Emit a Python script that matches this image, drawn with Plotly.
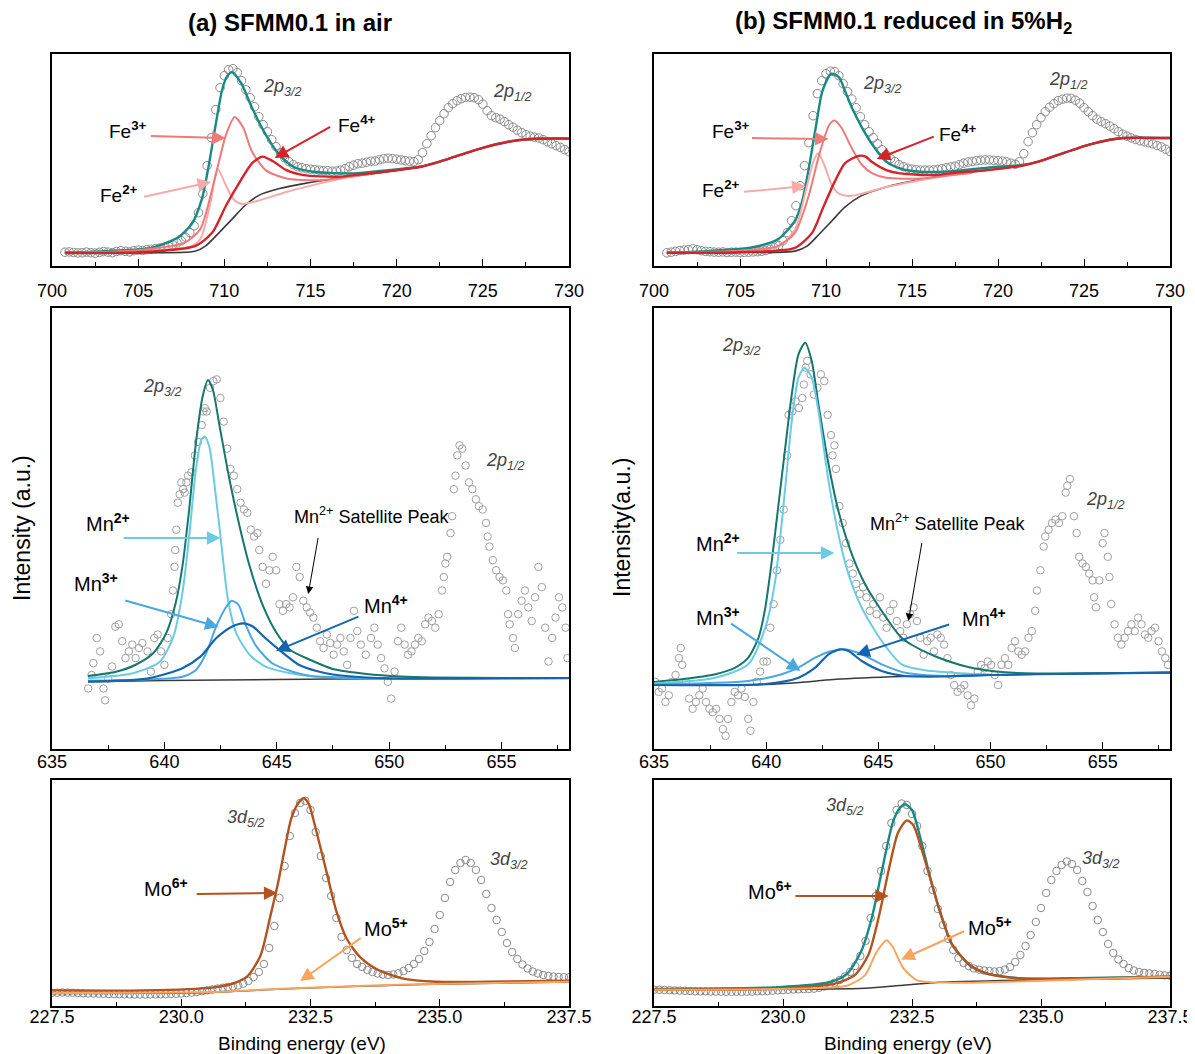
import numpy as np
import plotly.graph_objects as go

# ---------------- DATA ----------------
# Fe 2p  (binding energy grid, eV, 0.25 eV step)
fe_E = np.round(np.arange(700.75, 730.001, 0.25), 2)
fe_air_data = [13.5, 13.8, 13.2, 12.8, 13.0, 13.6, 13.0, 12.6, 13.4, 14.2, 13.6, 13.0, 14.2, 15.0, 14.3, 13.8,
               15.0, 15.6, 15.2, 16.0, 16.4, 17.0, 17.6, 18.4, 19.5, 21, 22.8, 25, 28.5, 33, 40, 53, 72, 100,
               128, 156, 178, 190, 196, 197, 193, 185, 176, 168, 159, 149, 141, 134, 126, 119, 113, 108, 104,
               101, 99, 98, 97, 96.5, 96, 95.6, 95, 95, 94.5, 94.6, 95.5, 97, 99, 100.5, 102, 102.5, 103.5,
               104.5, 104.7, 106, 107, 107.5, 107, 106.5, 105.8, 105, 104.5, 104.1, 106, 113, 122, 130, 138,
               145, 152, 158, 162, 165, 167, 168.3, 168.5, 168, 166, 161.5, 155, 150, 148, 146.5, 144, 141,
               138.5, 135.5, 133, 131, 129.5, 128.5, 127.7, 126, 124, 122, 120, 118.3, 116, 114]
fe_red_data = [12.9, 13.5, 14.3, 15.2, 15.6, 16.0, 16.9, 16.0, 15.0, 14.3, 14.0, 13.6, 13.5, 13.8, 13.2, 13.5,
               13.6, 13.2, 13.4, 13.5, 13.8, 14.0, 14.4, 15.2, 16.4, 18, 20, 25, 33, 45, 60, 80, 100, 123,
               150, 172, 185, 192, 194.5, 194, 190, 182, 174, 166.6, 158, 149, 141, 134, 128, 122, 116, 110.8,
               107, 104, 101, 99, 97.5, 96.5, 96, 95.6, 95.6, 95.6, 95.8, 96.2, 97, 98, 98.8, 99.5, 101,
               102.5, 103.6, 104.3, 105, 105.5, 105.8, 105.8, 105.3, 105, 104.5, 103.8, 102.5, 101.4, 104,
               112, 124, 133, 141, 148, 154, 158.5, 162, 165, 166.5, 167.5, 167.4, 165.5, 162.5, 158, 154,
               150, 146.5, 144, 142, 139.6, 137, 134, 131.5, 129.5, 127.8, 126.3, 125, 124, 123, 121.8, 120.2,
               118.8, 116.5, 114.2]

# Fe fitted components (E, intensity)
fe_air_bg_E = [700.75, 705.0, 708.3, 708.9, 709.7, 710.45, 711.2, 712.0, 713.2, 714.6, 716.5, 719.5, 721.4, 722.5, 723.5, 725.1, 726.4, 727.8, 730.0]
fe_air_bg = [12.2, 12.8, 14.5, 19.6, 33.1, 46.6, 60.2, 70.3, 77.1, 82.1, 87.2, 93.9, 99.0, 104.1, 109.8, 118.3, 123.7, 126.7, 127.1]
fe_air_env_E = [700.75, 703.0, 705.74, 707.3, 708.1, 708.7, 709.1, 709.5, 709.86, 710.15, 710.45, 711.0, 711.6, 712.4, 713.2, 714.0, 715.2, 717.5, 719.5, 721.4, 722.5, 723.5, 725.1, 726.4, 727.8, 730.0]
fe_air_env = [12.9, 14.5, 17.9, 28.1, 41.6, 66.9, 100.7, 141.2, 175, 189, 193.6, 181.8, 158.1, 131.1, 110.8, 99, 93.9, 92.3, 95.6, 99.0, 104.1, 109.8, 118.3, 123.7, 126.7, 127.1]
fe_air_fe4_E = [700.75, 705.0, 708.3, 709.3, 710.1, 710.9, 711.6, 712.2, 712.8, 713.6, 714.6, 716.5, 718.0, 719.5, 721.4, 722.5, 723.5, 725.1, 726.4, 727.8, 730.0]
fe_air_fe4 = [12.9, 13.5, 19.6, 33.1, 60.2, 83.8, 102.4, 109.1, 104.7, 95.6, 90.6, 88.9, 91.5, 94.5, 99.0, 104.1, 109.8, 118.3, 123.7, 126.7, 127.1]
fe_air_fe3_E = [700.75, 705.0, 707.7, 708.6, 709.4, 710.1, 710.6, 711.1, 711.6, 712.4, 713.6, 715.5, 717.0, 718.5]
fe_air_fe3 = [12.9, 15.5, 23, 36.5, 83.8, 131.1, 148.7, 137.9, 114.2, 95.6, 87.2, 85.5, 88.5, 92]
fe_air_fe2_E = [700.75, 705.0, 708.0, 708.6, 709.2, 709.6, 710.0, 710.5, 711.0, 712.0, 713.6, 715.5, 717.0, 718.5]
fe_air_fe2 = [12.9, 14.5, 19, 26.4, 63.5, 97.3, 83.8, 66.9, 61.8, 65.2, 73.7, 82.1, 88, 92]

fe_red_bg_E = [700.75, 705.0, 708.2, 708.9, 709.6, 710.35, 711.1, 712.1, 713.5, 714.3, 716.4, 719.4, 721.4, 722.35, 723.5, 725.3, 726.5, 727.3, 730.0]
fe_red_bg = [12.9, 13.2, 14.6, 19.6, 31.4, 45.0, 58.5, 70.3, 78.7, 82.1, 88.9, 95.6, 100.0, 104.1, 110.8, 121.0, 126.0, 127.7, 127.7]
fe_red_env_E = [700.75, 703.0, 705.6, 707.2, 708.2, 708.6, 709.0, 709.4, 709.8, 710.3, 710.75, 711.1, 711.5, 712.1, 712.7, 713.5, 714.3, 715.5, 717.4, 719.4, 721.4, 722.35, 723.5, 725.3, 726.5, 727.3, 730.0]
fe_red_env = [12.9, 14.5, 17.9, 26.4, 45.0, 63.5, 97.3, 137.9, 175, 191.9, 188.5, 175, 158.1, 137.9, 121, 104.1, 97.3, 93.9, 94.6, 98, 100.7, 104.1, 110.8, 121.0, 126.0, 127.7, 127.7]
fe_red_fe4_E = [700.75, 705.0, 708.2, 709.2, 709.8, 710.5, 711.1, 711.9, 712.3, 712.7, 713.5, 714.3, 716.4, 717.5, 719.4, 721.4, 722.35, 723.5, 725.3, 726.5, 727.3, 730.0]
fe_red_fe4 = [12.9, 13.5, 17.9, 33.1, 56.8, 83.8, 102.4, 109.8, 109.1, 103.4, 95.6, 92.3, 90.6, 93, 95.6, 100, 104.1, 110.8, 121, 126, 127.7, 127.7]
fe_red_fe3_E = [700.75, 705.0, 707.2, 708.2, 709.0, 709.6, 710.2, 710.5, 710.9, 711.5, 712.1, 712.7, 713.5, 715.5, 717.0, 718.5]
fe_red_fe3 = [12.9, 15, 19.6, 33.1, 70.3, 110.8, 141.2, 145.3, 137.9, 117.6, 100.7, 92.3, 87.9, 87.2, 90, 93]
fe_red_fe2_E = [700.75, 705.0, 707.2, 708.2, 708.9, 709.3, 709.55, 709.9, 710.35, 710.75, 711.3, 712.1, 713.5, 715.5, 717.0, 718.5]
fe_red_fe2 = [12.9, 14.5, 18.9, 36.5, 80.4, 105.8, 112.5, 100.7, 80.4, 72, 69.6, 72, 78.7, 85.5, 90, 93]

# Mn 2p raw data (E, intensity) pairs
mn_air_pts = [(636.61, 60.5), (636.76, 74), (636.84, 85.8), (636.99, 111), (637.14, 97.6), (637.29, 60.5),
    (637.36, 48.7), (637.5, 70.6), (637.67, 82.5), (637.82, 122.3), (637.97, 124.7), (638.12, 107.8),
    (638.27, 90.9), (638.42, 97.6), (638.57, 104.4), (638.72, 90.9), (638.87, 101), (639.02, 106),
    (639.25, 97.6), (639.4, 77.4), (639.55, 111), (639.7, 114.5), (639.85, 97.6), (640.0, 84.1),
    (640.15, 111), (640.3, 134.8), (640.38, 158.5), (640.45, 182.1), (640.48, 199), (640.53, 219.3),
    (640.6, 246.3), (640.68, 254.7), (640.75, 266.6), (640.83, 259.8), (640.9, 256.4), (640.98, 266.6),
    (641.05, 273.3), (641.2, 276.7), (641.36, 293.6), (641.5, 307.1), (641.66, 324), (641.73, 337.5),
    (641.8, 340.9), (641.88, 337.5), (642.03, 361.2), (642.18, 367.9), (642.33, 369.6), (642.49, 351),
    (642.64, 327.4), (642.79, 300.4), (642.94, 280.1), (643.09, 273.3), (643.24, 259.8), (643.39, 246.3),
    (643.54, 239.5), (643.69, 236.2), (643.84, 219.3), (643.99, 212.5), (644.14, 215.9), (644.22, 199),
    (644.37, 182.1), (644.52, 165.2), (644.67, 178.7), (644.82, 192.2), (644.97, 178.7), (645.12, 144.9),
    (645.27, 138.2), (645.42, 144.9), (645.57, 141.6), (645.72, 151.7), (645.87, 182.1), (646.02, 172),
    (646.18, 148.3), (646.33, 141.6), (646.48, 136.5), (646.63, 131.4), (646.78, 121.3), (646.93, 107.8),
    (647.08, 101), (647.23, 114.5), (647.38, 106), (647.53, 94.3), (647.68, 104.4), (647.83, 111),
    (647.98, 97.6), (648.13, 84.1), (648.28, 111), (648.43, 138.2), (648.58, 117.9), (648.74, 104.4),
    (648.96, 94.3), (649.19, 111), (649.34, 121.3), (649.49, 104.4), (649.64, 90.9), (649.79, 80.7),
    (649.94, 67.2), (650.09, 50.4), (650.24, 77.4), (650.39, 107.8), (650.54, 121.3), (650.69, 104.4),
    (650.84, 94.3), (650.99, 97.6), (651.15, 104.4), (651.3, 111), (651.45, 107.8), (651.6, 124.7),
    (651.75, 131.4), (651.9, 128), (652.05, 121.3), (652.2, 134.8), (652.35, 158.5), (652.43, 172),
    (652.5, 185.5), (652.58, 192.2), (652.73, 215.9), (652.8, 232.8), (652.88, 259.8), (652.95, 273.3),
    (653.03, 293.6), (653.13, 303.7), (653.25, 300.4), (653.4, 283.5), (653.55, 266.6), (653.7, 259.8),
    (653.86, 249.7), (653.99, 242.9), (654.16, 239.5), (654.31, 226), (654.38, 212.5), (654.46, 202.4),
    (654.61, 188.9), (654.76, 178.7), (654.91, 172), (655.06, 168.6), (655.21, 158.5), (655.29, 134.8),
    (655.36, 124.7), (655.51, 111), (655.59, 101), (655.74, 134.8), (655.89, 148.3), (656.04, 158.5),
    (656.19, 141.6), (656.34, 128), (656.49, 151.7), (656.64, 182.1), (656.79, 161.9), (656.94, 121.3),
    (657.09, 87.5), (657.25, 111), (657.4, 131.4), (657.55, 151.7), (657.7, 141.6), (657.85, 121.3),
    (657.93, 90.9)]
mn_red_pts = [(635.06, 67.2), (635.21, 57.1), (635.36, 60.5), (635.51, 47), (635.66, 53.7), (635.81, 67.2),
    (635.96, 74), (636.11, 90.9), (636.19, 101), (636.26, 84.1), (636.42, 67.2), (636.57, 50.4),
    (636.72, 40.2), (636.87, 47), (637.02, 53.7), (637.17, 60.5), (637.32, 47), (637.47, 40.2),
    (637.62, 36.8), (637.77, 40.2), (637.92, 30.1), (638.07, 19.9), (638.19, 13.2), (638.3, 30.1),
    (638.45, 47), (638.6, 57.1), (638.75, 53.7), (638.9, 60.5), (639.05, 52), (639.2, 30.1),
    (639.3, 18.3), (639.43, 47), (639.58, 67.2), (639.73, 77.4), (639.88, 87.5), (640.03, 87.5),
    (640.18, 121.3), (640.33, 144.9), (640.48, 178.7), (640.63, 209.1), (640.78, 239.5), (640.93, 293.6),
    (641.0, 334.1), (641.16, 337.5), (641.31, 347.6), (641.46, 341), (641.61, 351), (641.68, 364.5),
    (641.76, 381.4), (641.83, 388.2), (641.98, 374.7), (642.13, 354.4), (642.28, 361.2), (642.44, 374.7),
    (642.59, 367.9), (642.74, 334.1), (642.89, 313.9), (642.96, 293.6), (643.04, 303.7), (643.11, 280.1),
    (643.26, 242.9), (643.41, 226), (643.56, 205.8), (643.71, 185.5), (643.86, 175.4), (644.01, 165.2),
    (644.17, 155.1), (644.32, 161.9), (644.47, 151.7), (644.62, 138.2), (644.77, 144.9), (644.92, 134.8),
    (645.07, 151.7), (645.22, 131.4), (645.37, 121.3), (645.52, 138.2), (645.67, 144.9), (645.82, 128),
    (645.97, 117.9), (646.12, 111.2), (646.27, 124.7), (646.42, 134.8), (646.57, 141.6), (646.72, 128),
    (646.87, 111.2), (647.02, 94.3), (647.18, 107.8), (647.33, 111.2), (647.48, 97.6), (647.63, 114.5),
    (647.78, 111.2), (647.93, 104.4), (648.08, 90.9), (648.23, 74), (648.38, 63.9), (648.53, 57.1),
    (648.68, 60.5), (648.83, 63.9), (648.98, 53.7), (649.13, 43.6), (649.28, 50.4), (649.43, 77.4),
    (649.58, 84.1), (649.73, 80.7), (649.88, 87.5), (650.03, 84.1), (650.19, 74), (650.34, 63.9),
    (650.49, 84.1), (650.64, 90.9), (650.79, 84.1), (650.94, 101), (651.09, 107.8), (651.24, 97.6),
    (651.39, 94.3), (651.54, 97.6), (651.69, 111.2), (651.84, 117.9), (651.99, 138.2), (652.07, 158.5),
    (652.22, 178.7), (652.37, 202.4), (652.44, 212.5), (652.59, 219.3), (652.74, 226), (652.89, 229.4),
    (653.05, 226), (653.2, 232.8), (653.35, 256.4), (653.42, 263.2), (653.54, 270), (653.72, 232.8),
    (653.84, 215.9), (653.95, 192.2), (654.1, 185.5), (654.25, 182.1), (654.4, 175.4), (654.55, 168.6),
    (654.62, 151.7), (654.7, 141.6), (654.85, 168.6), (655.0, 205.8), (655.08, 215.9), (655.23, 192.2),
    (655.3, 172), (655.38, 145), (655.53, 124.7), (655.68, 111.2), (655.83, 104.4), (655.98, 111.2),
    (656.13, 117.9), (656.28, 124.7), (656.43, 117.9), (656.58, 131.4), (656.73, 124.7), (656.88, 114.5),
    (657.03, 111.2), (657.18, 117.9), (657.33, 121.3), (657.49, 107.8), (657.64, 97.6), (657.79, 90.9),
    (657.91, 84.1)]

# Mn fitted components
mn_air_bg_E = [636.6, 640, 645, 650, 658]
mn_air_bg = [67.3, 68.5, 69.5, 70.3, 70.8]
mn_air_env_E = [636.6, 637.85, 638.7, 639.5, 640.08, 640.5, 640.8, 641.1, 641.4, 641.7, 641.94, 642.16, 642.46, 642.9, 643.35, 643.8, 644.4, 645.0, 645.6, 646.5, 647.5, 649.0, 650.5, 652.0, 655, 658]
mn_air_env = [73, 77.3, 84, 95.7, 115.7, 145.7, 182.3, 239, 305.7, 352.3, 369, 359, 322.3, 269, 222.3, 182.3, 142.3, 115.7, 99, 89, 80, 75, 72.5, 71.5, 71, 71]
mn_air_mn2_E = [636.6, 638.6, 639.8, 640.4, 640.8, 641.1, 641.4, 641.64, 641.8, 642.0, 642.24, 642.53, 642.83, 643.2, 643.8, 644.5, 645.6, 646.5, 648, 650]
mn_air_mn2 = [70.7, 75.7, 87.3, 112.3, 155.7, 212.3, 279, 309, 312.3, 302.3, 262.3, 205.7, 149, 115.7, 94, 82.3, 75.7, 73, 71.5, 70.5]
mn_air_mn3_E = [636.6, 640.8, 641.4, 641.86, 642.3, 642.75, 643.0, 643.3, 643.65, 644.1, 644.8, 645.7, 646.5, 648, 650]
mn_air_mn3 = [68.3, 72.3, 79, 95.7, 122.3, 142.3, 148.3, 144, 122.3, 102.3, 85.7, 77.3, 73, 71.2, 70.5]
mn_air_mn4_E = [636.6, 639.3, 640.8, 641.6, 642.3, 643.0, 643.5, 643.95, 644.5, 645.3, 646.0, 646.77, 647.5, 649.0, 650, 658]
mn_air_mn4 = [67.3, 70.7, 80.7, 92.3, 110.7, 122.3, 125.7, 122.3, 110.7, 95.7, 84, 78, 74.5, 71.5, 70.6, 70.8]

mn_red_bg_E = [635, 640, 641.5, 643, 646, 650, 654, 658]
mn_red_bg = [64, 64.5, 66.5, 69.5, 72.5, 74, 75.3, 76.4]
mn_red_env_E = [635.0, 636.25, 637.73, 638.62, 639.2, 639.66, 639.96, 640.25, 640.55, 640.85, 641.14, 641.44, 641.74, 642.03, 642.33, 642.78, 643.22, 643.82, 644.41, 645.15, 646.0, 646.5, 647.5, 649.0, 650.5, 652, 655, 658]
mn_red_env = [67, 69.7, 74.7, 81.3, 91.3, 111.3, 141.3, 188, 244.7, 301.3, 354.7, 394.7, 406.3, 388, 344.7, 284.7, 238, 194.7, 164.7, 138, 112, 104, 93, 82, 77, 75.5, 75.8, 76.4]
mn_red_mn2_E = [635, 637.73, 639.2, 639.96, 640.4, 640.85, 641.14, 641.44, 641.71, 642.03, 642.33, 642.78, 643.22, 643.67, 644.26, 645.15, 646.04, 647, 648.5, 650]
mn_red_mn2 = [65.5, 71.3, 84.7, 121.3, 168, 261.3, 328, 371.3, 381.3, 371.3, 338, 268, 214.7, 174.7, 141.3, 108, 84.7, 79, 76, 74.5]
mn_red_mn3_E = [635, 639.2, 640.7, 641.44, 642.18, 642.93, 643.52, 644.26, 645.15, 646.2, 648, 650]
mn_red_mn3 = [64.5, 68, 74.7, 81.3, 91.3, 98, 99.7, 94.7, 84.7, 76.3, 73, 74]
mn_red_mn4_E = [635, 639.96, 641.44, 642.18, 642.78, 643.3, 643.67, 644.26, 645.15, 646.2, 648, 650, 654, 658]
mn_red_mn4 = [64, 65, 71.3, 81.3, 94.7, 99.7, 98, 88, 78, 73, 72.5, 74, 75.3, 76.4]

# Mo 3d raw data (0.1 eV step)
mo_E = np.round(np.arange(227.5, 237.501, 0.1), 2)
mo_air_data = [13.2, 13.3, 13.5, 13.4, 13.2, 13.0, 12.8, 12.6, 12.5, 12.3, 12.2, 12.0, 11.9, 11.8, 11.7, 11.6,
               11.5, 11.5, 11.5, 11.6, 11.6, 11.7, 11.8, 12.0, 12.2, 12.5, 12.9, 13.4, 14.0, 14.8, 15.7, 16.6,
               17.5, 18.3, 19.0, 19.5, 20.5, 22.3, 25, 29, 34, 42, 58, 80, 108, 140, 170, 193, 203, 205, 196,
               174, 150, 128, 110, 88, 69, 56, 48, 42, 39, 36, 34, 32.5, 31.5, 31, 31.5, 32.8, 35, 38, 42, 47,
               55, 64, 77, 91, 108, 124, 136, 143, 146, 143, 136, 126, 112, 98, 86, 74, 63, 54, 47, 41.5, 37.5,
               34.5, 32.5, 31, 30, 29.3, 29, 28.8, 28.7]
mo_red_data = [16.3, 16.2, 16.0, 15.8, 15.6, 15.4, 15.2, 15.0, 14.8, 14.7, 14.6, 14.5, 14.4, 14.3, 14.2, 14.2,
               14.2, 14.2, 14.3, 14.4, 14.6, 14.8, 15.0, 15.3, 15.6, 15.9, 16.2, 16.5, 16.7, 16.9, 17.0, 17.3,
               18.2, 19.5, 21.2, 23.3, 26, 29.5, 34, 40, 50, 65, 88, 110, 135, 160, 183, 196, 202.5, 201, 192,
               180, 160, 135, 116, 97, 81, 67, 56, 48, 43, 40, 37.5, 36.3, 35.5, 35, 34.5, 35, 36.5, 39, 44, 51,
               60, 71, 84, 98, 113, 126, 135, 141, 144.5, 142, 136, 125, 114, 100, 86, 74, 62, 53, 46.6, 42, 38,
               35.5, 34, 33.2, 32.7, 32, 31.3, 30.7, 30.2]

mo_air_bg_E = [227.5, 230.6, 231.93, 233.27, 234.6, 237.5]
mo_air_bg = [12.6, 13.6, 17.0, 19.4, 21.5, 23.9]
mo_air_mo6_E = [227.5, 229.27, 230.6, 231.0, 231.27, 231.53, 231.73, 231.87, 232.0, 232.13, 232.27, 232.37, 232.47, 232.6, 232.8, 233.0, 233.2, 233.47, 233.8, 234.27, 234.93, 235.93, 237.5]
mo_air_mo6 = [15.6, 15.6, 18.4, 22.5, 29.4, 50, 91.4, 122.4, 156.8, 187.8, 203.3, 207.8, 201.6, 177.5, 136.1, 94.8, 67.3, 48.3, 36.3, 27.7, 24.2, 24.2, 25.3]
mo_air_mo5_E = [227.5, 230.6, 231.93, 233.27, 234.6, 237.5]
mo_air_mo5 = [12.9, 13.9, 17.3, 19.7, 21.8, 24.2]

mo_red_bg_E = [227.5, 231.59, 232.26, 232.93, 234.62, 237.5]
mo_red_bg = [16.3, 17.7, 20.5, 23.3, 25.7, 28.1]
mo_red_env_E = [227.5, 229.91, 230.92, 231.25, 231.52, 231.73, 231.93, 232.13, 232.26, 232.36, 232.5, 232.67, 232.87, 233.07, 233.27, 233.61, 233.94, 234.62, 235.96, 237.5]
mo_red_env = [17, 18.8, 24, 32.7, 55.3, 90, 138.7, 183.9, 197.8, 201.9, 196, 166.5, 124.8, 90, 62.2, 41.3, 32.7, 27.5, 28.1, 29.2]
mo_red_mo6_E = [227.5, 229.91, 230.99, 231.39, 231.66, 231.86, 232.06, 232.23, 232.4, 232.53, 232.67, 232.87, 233.07, 233.27, 233.61, 233.94, 234.62, 237.5]
mo_red_mo6 = [16.3, 17.7, 22.2, 30.9, 51.8, 90, 138.7, 173.4, 185.6, 180.4, 159.5, 124.8, 90, 62.2, 41.3, 32.7, 27.5, 29.2]
mo_red_mo5_E = [227.5, 230.58, 231.25, 231.59, 231.79, 231.93, 232.01, 232.13, 232.33, 232.6, 233.27, 235.29, 237.5]
mo_red_mo5 = [16.3, 17.7, 20.5, 30.9, 51.8, 62.2, 65.7, 58.7, 37.9, 25.7, 23.3, 25.7, 29.2]

titles = ["<b>(a) SFMM0.1 in air</b>", "<b>(b) SFMM0.1 reduced in 5%H<sub>2</sub></b>"]

# ---------------- STYLE ----------------
FONT = "Liberation Sans, Arial, Helvetica, sans-serif"
C_DATA = "#8a8a8a"
C_ENV = "#178a85"
C_ENV_MN = "#15766d"
C_BG = "#3a3a3a"
C_FE4, C_FE3, C_FE2 = "#d6232a", "#ee7a7a", "#f6abab"
C_MN2, C_MN3, C_MN4 = "#6ccbe4", "#4aa7e0", "#1565ae"
C_MO6, C_MO5 = "#b3531f", "#f6a45e"

W, H = 1195, 1054
OFF = 8  # page body margin


def px_x(v):
    return (v - OFF) / W


def px_y(v):
    return 1 - (v - OFF) / H


xdom = {"L": [px_x(52), px_x(569)], "R": [px_x(654), px_x(1170)]}
ydom = {1: [px_y(265.7), px_y(53.5)], 2: [px_y(749), px_y(308.4)], 3: [px_y(1006), px_y(780.3)]}

fig = go.Figure()


def names(i):
    return ("x" if i == 1 else f"x{i}"), ("y" if i == 1 else f"y{i}")


def add_data(i, x, y, color=C_DATA, size=8.5):
    xa, ya = names(i)
    fig.add_trace(go.Scatter(x=x, y=y, mode="markers", xaxis=xa, yaxis=ya, showlegend=False,
                             marker=dict(symbol="circle-open", size=size, color=color, line=dict(width=1))))


def add_line(i, x, y, color, width=2.0):
    xa, ya = names(i)
    fig.add_trace(go.Scatter(x=x, y=y, mode="lines", xaxis=xa, yaxis=ya, showlegend=False,
                             line=dict(color=color, width=width, shape="spline", smoothing=0.7)))


# Panel 1: Fe air
add_data(1, fe_E, fe_air_data)
add_line(1, fe_air_bg_E, fe_air_bg, C_BG, 1.6)
add_line(1, fe_air_env_E, fe_air_env, C_ENV, 2.4)
add_line(1, fe_air_fe2_E, fe_air_fe2, C_FE2)
add_line(1, fe_air_fe3_E, fe_air_fe3, C_FE3)
add_line(1, fe_air_fe4_E, fe_air_fe4, C_FE4, 2.4)
# Panel 2: Fe reduced
add_data(2, fe_E, fe_red_data)
add_line(2, fe_red_bg_E, fe_red_bg, C_BG, 1.6)
add_line(2, fe_red_env_E, fe_red_env, C_ENV, 2.4)
add_line(2, fe_red_fe2_E, fe_red_fe2, C_FE2)
add_line(2, fe_red_fe3_E, fe_red_fe3, C_FE3)
add_line(2, fe_red_fe4_E, fe_red_fe4, C_FE4, 2.4)
# Panel 3: Mn air
add_data(3, [p[0] for p in mn_air_pts], [p[1] for p in mn_air_pts], "#a0a0a0", 7.5)
add_line(3, mn_air_bg_E, mn_air_bg, C_BG, 1.5)
add_line(3, mn_air_env_E, mn_air_env, C_ENV_MN)
add_line(3, mn_air_mn2_E, mn_air_mn2, C_MN2)
add_line(3, mn_air_mn3_E, mn_air_mn3, C_MN3)
add_line(3, mn_air_mn4_E, mn_air_mn4, C_MN4, 2.2)
# Panel 4: Mn reduced
add_data(4, [p[0] for p in mn_red_pts], [p[1] for p in mn_red_pts], "#a0a0a0", 7.5)
add_line(4, mn_red_bg_E, mn_red_bg, C_BG, 1.5)
add_line(4, mn_red_env_E, mn_red_env, C_ENV_MN)
add_line(4, mn_red_mn2_E, mn_red_mn2, C_MN2)
add_line(4, mn_red_mn3_E, mn_red_mn3, C_MN3)
add_line(4, mn_red_mn4_E, mn_red_mn4, C_MN4, 2.2)
# Panel 5: Mo air
add_data(5, mo_E, mo_air_data, size=7.5)
add_line(5, mo_air_bg_E, mo_air_bg, C_BG, 1.5)
add_line(5, mo_air_mo6_E, mo_air_mo6, C_MO6, 2.4)
add_line(5, mo_air_mo5_E, mo_air_mo5, C_MO5)
# Panel 6: Mo reduced
add_data(6, mo_E, mo_red_data, size=7.5)
add_line(6, mo_red_bg_E, mo_red_bg, C_BG, 1.5)
add_line(6, mo_red_env_E, mo_red_env, C_ENV, 2.4)
add_line(6, mo_red_mo6_E, mo_red_mo6, C_MO6, 2.4)
add_line(6, mo_red_mo5_E, mo_red_mo5, C_MO5)

# ---------------- AXES ----------------
panels = {
    1: ("L", 1, [700, 730], [0, 212.2], 700, 5, 2.5, None, 8),
    2: ("R", 1, [700, 730], [0, 212.2], 700, 5, 2.5, None, 8),
    3: ("L", 2, [635, 658], [0, 440.6], 635, 5, 2.5, None, -4),
    4: ("R", 2, [635, 658], [0, 440.6], 635, 5, 2.5, None, -4),
    5: ("L", 3, [227.5, 237.5], [0, 225.7], 227.5, 2.5, 1.25, ".1f", -6),
    6: ("R", 3, [227.5, 237.5], [0, 225.7], 227.5, 2.5, 1.25, ".1f", -6),
}
layout_axes = {}
for i, (col, row, xr, yr, t0, dt, mdt, fmt, stand) in panels.items():
    xa, ya = names(i)
    xkey = "xaxis" if i == 1 else f"xaxis{i}"
    ykey = "yaxis" if i == 1 else f"yaxis{i}"
    xd = dict(domain=xdom[col], range=xr, anchor=ya, showline=True, mirror=True, linecolor="black",
              linewidth=1.6, ticks="inside", ticklen=7, tickwidth=1.4, tickcolor="black",
              tick0=t0, dtick=dt, showgrid=False, zeroline=False, automargin=False,
              ticklabeloverflow="allow",
              minor=dict(tick0=t0, dtick=mdt, ticks="inside", ticklen=4, tickwidth=1.2, tickcolor="black"),
              tickfont=dict(family=FONT, size=18, color="black"), ticklabelstandoff=stand)
    if fmt:
        xd["tickformat"] = fmt
    layout_axes[xkey] = xd
    layout_axes[ykey] = dict(domain=ydom[row], range=yr, anchor=xa, showline=True, mirror=True,
                             linecolor="black", linewidth=1.6, ticks="", showticklabels=False,
                             showgrid=False, zeroline=False, automargin=False)

# ---------------- ANNOTATIONS ----------------
ann = []


def label(i, x, y, text, size=19, color="black", italic=False):
    xa, ya = names(i)
    t = f"<i>{text}</i>" if italic else text
    ann.append(dict(xref=xa, yref=ya, x=x, y=y, text=t, showarrow=False,
                    font=dict(family=FONT, size=size, color=color), xanchor="center", yanchor="middle"))


def arrow(i, tail, head, color, width=2.0, size=1.35):
    xa, ya = names(i)
    ann.append(dict(xref=xa, yref=ya, axref=xa, ayref=ya, x=head[0], y=head[1], ax=tail[0], ay=tail[1],
                    text="", showarrow=True, arrowhead=2, arrowsize=size, arrowwidth=width, arrowcolor=color))


GR = "#444444"
# Fe air
label(1, 713.4, 178.7, "2p<sub>3/2</sub>", 18, GR, True)
label(1, 726.7, 173.7, "2p<sub>1/2</sub>", 18, GR, True)
label(1, 704.43, 135.7, "Fe<sup><b>3+</b></sup>")
arrow(1, (705.66, 129.7), (710.08, 127.7), C_FE3)
label(1, 703.9, 71.7, "Fe<sup><b>2+</b></sup>")
arrow(1, (705.26, 68.7), (709.23, 83.7), C_FE2)
label(1, 717.7, 141.7, "Fe<sup><b>4+</b></sup>")
arrow(1, (716.23, 139.7), (712.92, 107.7), C_FE4)
# Fe reduced
label(2, 713.3, 181.7, "2p<sub>3/2</sub>", 18, GR, True)
label(2, 724.1, 185.7, "2p<sub>1/2</sub>", 18, GR, True)
label(2, 704.45, 135.7, "Fe<sup><b>3+</b></sup>")
arrow(2, (705.61, 127.7), (710.15, 126.7), C_FE3)
label(2, 703.92, 76.7, "Fe<sup><b>2+</b></sup>")
arrow(2, (705.15, 73.7), (708.81, 79.7), C_FE2)
label(2, 717.69, 132.7, "Fe<sup><b>4+</b></sup>")
arrow(2, (716.35, 129.7), (712.95, 106.7), C_FE4)
# Mn air
label(3, 639.9, 361, "2p<sub>3/2</sub>", 18, GR, True)
label(3, 655.19, 287, "2p<sub>1/2</sub>", 18, GR, True)
label(3, 637.47, 226, "Mn<sup><b>2+</b></sup>", 20)
arrow(3, (638.12, 211), (642.49, 211), C_MN2)
label(3, 636.95, 167, "Mn<sup><b>3+</b></sup>", 20)
arrow(3, (638.19, 149), (642.41, 122), C_MN3)
label(3, 649.21, 233, "Mn<sup>2+</sup> Satellite Peak", 18)
arrow(3, (646.85, 212.5), (646.4, 155), "black", 1.0, 1.5)
label(3, 649.86, 145, "Mn<sup><b>4+</b></sup>", 20)
arrow(3, (648.7, 133), (644.97, 98), C_MN4)
# Mn reduced
label(4, 638.91, 402, "2p<sub>3/2</sub>", 18, GR, True)
label(4, 655.12, 248, "2p<sub>1/2</sub>", 18, GR, True)
label(4, 637.84, 206, "Mn<sup><b>2+</b></sup>", 20)
arrow(4, (638.64, 196), (643.04, 196), C_MN2)
label(4, 637.84, 133, "Mn<sup><b>3+</b></sup>", 20)
arrow(4, (638.37, 126.4), (641.53, 78), C_MN3)
label(4, 648.08, 226, "Mn<sup>2+</sup> Satellite Peak", 18)
arrow(4, (646.95, 207.4), (646.34, 128), "black", 1.0, 1.5)
label(4, 649.69, 131.4, "Mn<sup><b>4+</b></sup>", 20)
arrow(4, (648.22, 125), (644.02, 94.3), C_MN4)
# Mo air
label(5, 231.26, 188, "3d<sub>5/2</sub>", 18, GR, True)
label(5, 236.33, 146, "3d<sub>3/2</sub>", 18, GR, True)
label(5, 229.7, 119, "Mo<sup><b>6+</b></sup>", 20)
arrow(5, (230.27, 112), (231.86, 113), C_MO6)
label(5, 233.96, 79, "Mo<sup><b>5+</b></sup>", 20)
arrow(5, (233.5, 69), (232.3, 25), C_MO5)
# Mo reduced
label(6, 231.2, 200, "3d<sub>5/2</sub>", 18, GR, True)
label(6, 236.17, 147, "3d<sub>3/2</sub>", 18, GR, True)
label(6, 229.74, 116, "Mo<sup><b>6+</b></sup>", 20)
arrow(6, (230.21, 110), (232.05, 110), C_MO6)
label(6, 234.02, 80, "Mo<sup><b>5+</b></sup>", 20)
arrow(6, (233.54, 75.4), (232.29, 46.6), C_MO5)

# titles and axis titles (paper coordinates)
for xc, txt in [(290, titles[0]), (903, titles[1])]:
    ann.append(dict(xref="paper", yref="paper", x=px_x(xc), y=px_y(22), text=txt, showarrow=False,
                    font=dict(family=FONT, size=24, color="black"), xanchor="center", yanchor="middle"))
for xc, txt in [(22, "Intensity (a.u.)"), (622, "Intensity(a.u.)")]:
    ann.append(dict(xref="paper", yref="paper", x=px_x(xc), y=px_y(528), text=txt, showarrow=False,
                    textangle=-90, font=dict(family=FONT, size=23, color="black"),
                    xanchor="center", yanchor="middle"))
for xc in [302, 908]:
    ann.append(dict(xref="paper", yref="paper", x=px_x(xc), y=px_y(1043), text="Binding energy (eV)",
                    showarrow=False, font=dict(family=FONT, size=19, color="black"),
                    xanchor="center", yanchor="middle"))

fig.update_layout(width=W, height=H, margin=dict(l=0, r=0, t=0, b=0, pad=0, autoexpand=False),
                  paper_bgcolor="white", plot_bgcolor="white", showlegend=False, annotations=ann,
                  **layout_axes)

fig.write_html("out.html")
